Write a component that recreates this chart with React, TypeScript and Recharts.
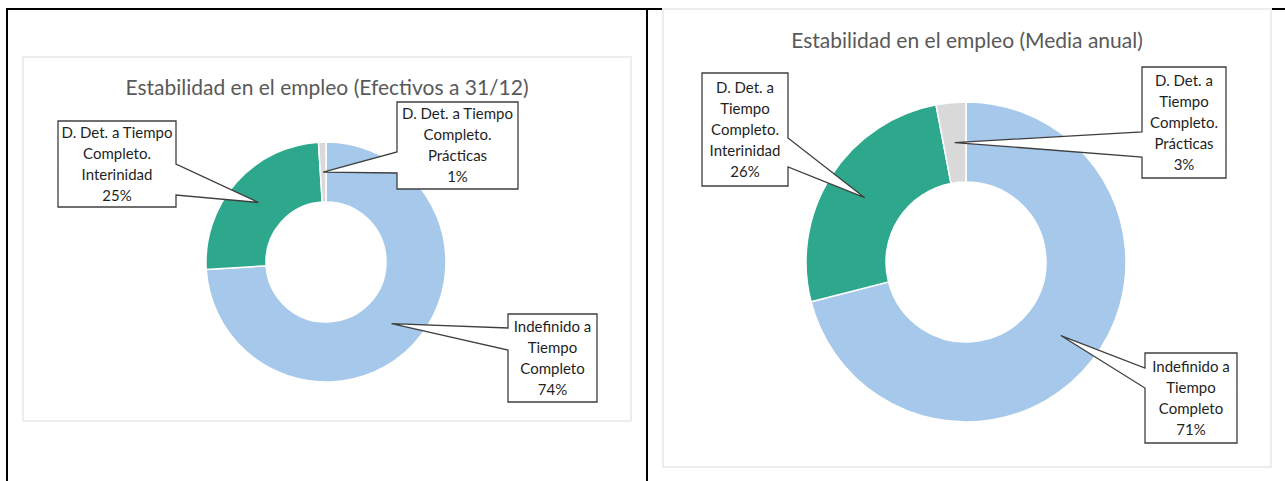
import React from "react";
import { PieChart, Pie, Cell } from "recharts";

// categories and values
const categories = [
  "Indefinido a Tiempo Completo",
  "D. Det. a Tiempo Completo. Interinidad",
  "D. Det. a Tiempo Completo. Prácticas",
];
const valuesEfectivos = [74, 25, 1];
const valuesMedia = [71, 26, 3];
const titleEfectivos = "Estabilidad en el empleo (Efectivos a 31/12)";
const titleMedia = "Estabilidad en el empleo (Media anual)";

const COLORS = ["#a6c8eb", "#2ea88c", "#d9d9d9"];
const FONT = "Lato, 'Liberation Sans', sans-serif";

type Box = {
  dx: number; // box left, relative to pie centre
  dy: number; // box top, relative to pie centre
  w: number;
  h: number;
  side: "left" | "right"; // which edge the pointer leaves from
  b0: number; // pointer base, from box top
  b1: number;
  wrap: number; // max chars per line
};

const boxesEfectivos: Box[] = [
  { dx: 182, dy: 52, w: 89, h: 88, side: "left", b0: 14, b1: 36, wrap: 12 },
  { dx: -268, dy: -141, w: 118, h: 86, side: "right", b0: 43, b1: 74, wrap: 16 },
  { dx: 71, dy: -160, w: 121, h: 87, side: "left", b0: 50, b1: 71, wrap: 16 },
];
const boxesMedia: Box[] = [
  { dx: 179, dy: 91, w: 92, h: 90, side: "left", b0: 15, b1: 35, wrap: 12 },
  { dx: -264, dy: -189, w: 86, h: 113, side: "right", b0: 65, b1: 94, wrap: 12 },
  { dx: 176, dy: -195, w: 84, h: 111, side: "left", b0: 65, b1: 90, wrap: 12 },
];

const RAD = Math.PI / 180;

function wrapText(s: string, max: number) {
  const lines: string[] = [];
  let cur = "";
  s.split(" ").forEach((w) => {
    if (cur && (cur + " " + w).length > max) {
      lines.push(cur);
      cur = w;
    } else {
      cur = cur ? cur + " " + w : w;
    }
  });
  if (cur) lines.push(cur);
  return lines;
}

const makeLabel = (boxes: Box[]) => (props: any) => {
  const { cx, cy, midAngle, innerRadius, outerRadius, index, name, percent } = props;
  const b = boxes[index];
  const r = (innerRadius + outerRadius) / 2;
  const tx = cx + r * Math.cos(-midAngle * RAD);
  const ty = cy + r * Math.sin(-midAngle * RAD);
  const x0 = cx + b.dx;
  const y0 = cy + b.dy;
  const x1 = x0 + b.w;
  const y1 = y0 + b.h;
  const path =
    b.side === "right"
      ? `M${x0},${y0} L${x1},${y0} L${x1},${y0 + b.b0} L${tx},${ty} L${x1},${y0 + b.b1} L${x1},${y1} L${x0},${y1} Z`
      : `M${x0},${y0} L${x1},${y0} L${x1},${y1} L${x0},${y1} L${x0},${y0 + b.b1} L${tx},${ty} L${x0},${y0 + b.b0} Z`;
  const lines = [...wrapText(name, b.wrap), `${Math.round(percent * 100)}%`];
  const lh = 21;
  const midY = (y0 + y1) / 2;
  const firstY = midY - ((lines.length - 1) * lh) / 2 + 5;
  return (
    <g key={`lbl-${index}`}>
      <path d={path} fill="#ffffff" stroke="#3f3f3f" strokeWidth={1.3} />
      <text x={(x0 + x1) / 2} y={firstY} textAnchor="middle" fontFamily={FONT} fontSize={15} fill="#1f1f1f">
        {lines.map((ln, i) => (
          <tspan key={i} x={(x0 + x1) / 2} y={firstY + i * lh}>
            {ln}
          </tspan>
        ))}
      </text>
    </g>
  );
};

const Donut = ({
  values,
  title,
  boxes,
  width,
  height,
  cx,
  cy,
  inner,
  outer,
  titleY,
}: {
  values: number[];
  title: string;
  boxes: Box[];
  width: number;
  height: number;
  cx: number;
  cy: number;
  inner: number;
  outer: number;
  titleY: number;
}) => {
  const data = categories.map((name, i) => ({ name, value: values[i] }));
  return (
    <div style={{ position: "relative", width, height }}>
      <div
        style={{
          position: "absolute",
          left: 0,
          width,
          top: titleY - 14,
          textAlign: "center",
          fontFamily: FONT,
          fontSize: 21,
          color: "#595959",
          lineHeight: "28px",
        }}
      >
        {title}
      </div>
      <PieChart width={width} height={height} margin={{ top: 0, right: 0, bottom: 0, left: 0 }}>
        <Pie
          data={data}
          dataKey="value"
          nameKey="name"
          cx={cx}
          cy={cy}
          innerRadius={inner}
          outerRadius={outer}
          startAngle={90}
          endAngle={-270}
          stroke="#ffffff"
          strokeWidth={1.5}
          labelLine={false}
          label={makeLabel(boxes)}
          isAnimationActive={false}
        >
          {data.map((_, i) => (
            <Cell key={i} fill={COLORS[i]} />
          ))}
        </Pie>
      </PieChart>
    </div>
  );
};

export default function App() {
  return (
    <div style={{ position: "absolute", left: 0, top: 0, width: 1285, height: 481, background: "#fff", overflow: "hidden" }}>
      {/* table rules */}
      <div style={{ position: "absolute", left: 6, top: 8, width: 1279, height: 2, background: "#000" }} />
      <div style={{ position: "absolute", left: 6, top: 8, width: 2, height: 473, background: "#000" }} />
      <div style={{ position: "absolute", left: 646, top: 8, width: 2, height: 473, background: "#000" }} />

      <div
        style={{
          position: "absolute",
          left: 22,
          top: 56,
          width: 610,
          height: 366,
          border: "2px solid #ededed",
          boxSizing: "border-box",
          background: "#fff",
        }}
      >
        <div style={{ position: "absolute", left: -2, top: -2 }}>
          <Donut
            values={valuesEfectivos}
            title={titleEfectivos}
            boxes={boxesEfectivos}
            width={610}
            height={366}
            cx={304}
            cy={206}
            inner={60}
            outer={120}
            titleY={31}
          />
        </div>
      </div>

      <div
        style={{
          position: "absolute",
          left: 662,
          top: 8,
          width: 610,
          height: 460,
          border: "2px solid #ededed",
          boxSizing: "border-box",
          background: "#fff",
        }}
      >
        <div style={{ position: "absolute", left: -2, top: -2 }}>
          <Donut
            values={valuesMedia}
            title={titleMedia}
            boxes={boxesMedia}
            width={610}
            height={460}
            cx={304}
            cy={254}
            inner={80}
            outer={160}
            titleY={32}
          />
        </div>
      </div>
    </div>
  );
}
